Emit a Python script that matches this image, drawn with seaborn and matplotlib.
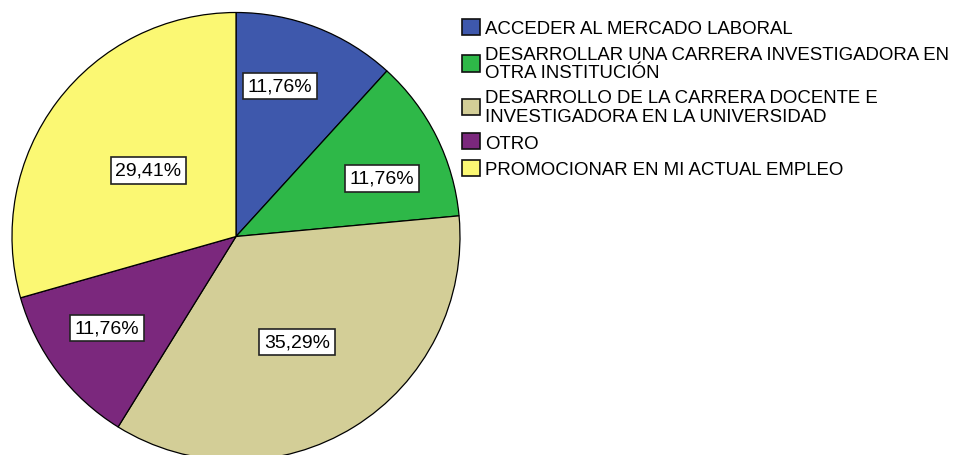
import numpy as np
import seaborn as sns
import matplotlib.pyplot as plt
from matplotlib.patches import Patch

# Data (counts out of 17 respondents)
categories = [
    "ACCEDER AL MERCADO LABORAL",
    "DESARROLLAR UNA CARRERA INVESTIGADORA EN\nOTRA INSTITUCIÓN",
    "DESARROLLO DE LA CARRERA DOCENTE E\nINVESTIGADORA EN LA UNIVERSIDAD",
    "OTRO",
    "PROMOCIONAR EN MI ACTUAL EMPLEO",
]
counts = [2, 2, 6, 2, 5]
colors = ["#3e58ac", "#2eb848", "#d3ce97", "#7b287d", "#fbf873"]

# label placement inside each wedge: (fraction of radius, angle nudge in degrees)
label_place = [(0.70, 4.9), (0.70, -4.7), (0.545, -1.8), (0.705, -1.7), (0.49, 0.0)]

sns.set_theme(style="white")
plt.rcParams["font.family"] = ["Liberation Sans", "DejaVu Sans"]

W, H = 968, 456
fig = plt.figure(figsize=(W / 100, H / 100), dpi=100)
cx, cy, r = 236, 456 - 237.5, 224
ax = fig.add_axes([(cx - r) / W, (cy - r) / H, 2 * r / W, 2 * r / H])

wedges, _ = ax.pie(
    counts,
    colors=colors,
    startangle=90,
    counterclock=False,
    radius=1.0,
    wedgeprops=dict(edgecolor="black", linewidth=0.9),
)
ax.set_xlim(-1, 1)
ax.set_ylim(-1, 1)
ax.set_aspect("equal")
ax.axis("off")

total = sum(counts)
for w, c, (frac, nudge) in zip(wedges, counts, label_place):
    ang = np.deg2rad((w.theta1 + w.theta2) / 2 + nudge)
    txt = f"{c / total * 100:.2f}%".replace(".", ",")
    ax.text(frac * np.cos(ang), frac * np.sin(ang), txt,
            ha="center", va="center", fontsize=14, color="black",
            bbox=dict(boxstyle="square,pad=0.24", facecolor="white",
                      edgecolor="#222222", linewidth=1.2))

handles = [Patch(facecolor=col, edgecolor="#111111", linewidth=1.2) for col in colors]
leg = fig.legend(handles, categories, loc="upper left",
                 bbox_to_anchor=(462 / W, 1 - 20 / H),
                 frameon=False, fontsize=13.4, borderpad=0, borderaxespad=0,
                 handlelength=0.95, handleheight=0.95, handletextpad=0.3,
                 labelspacing=0.44)
for t in leg.get_texts():
    t.set_color("black")
    t.set_linespacing(1.12)

fig.savefig("out.png", dpi=100)
